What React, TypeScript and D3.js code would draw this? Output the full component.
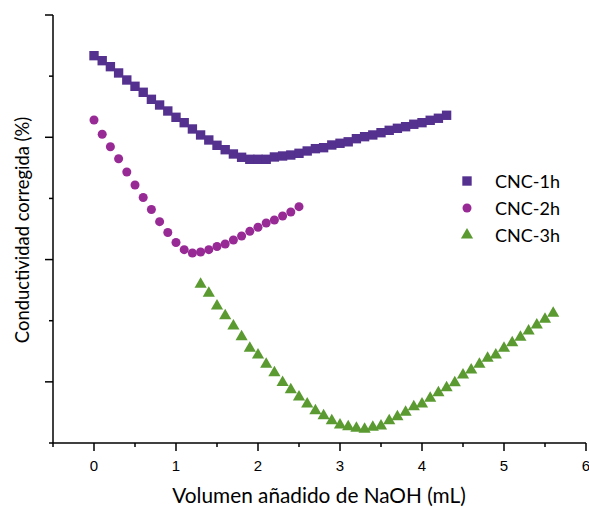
import React from 'react'
import * as d3 from 'd3'

// conductivity readings (arbitrary units, axis is unlabelled), one every 0.1 mL of NaOH
const cnc1Values = [
  6.335, 6.253, 6.155, 6.052, 5.937, 5.834, 5.736, 5.621, 5.528, 5.43,
  5.327, 5.239, 5.136, 5.038, 4.956, 4.869, 4.797, 4.727, 4.673, 4.64,
  4.64, 4.64, 4.678, 4.694, 4.71, 4.738, 4.776, 4.814, 4.83, 4.874,
  4.902, 4.926, 4.977, 5.01, 5.038, 5.075, 5.114, 5.147, 5.173, 5.213,
  5.239, 5.278, 5.311, 5.36,
]
const cnc1Start = 0

const cnc2Values = [
  5.283, 5.049, 4.846, 4.65, 4.432, 4.22, 4.015, 3.819, 3.62, 3.443,
  3.279, 3.162, 3.108, 3.124, 3.162, 3.214, 3.255, 3.32, 3.386, 3.462,
  3.528, 3.598, 3.647, 3.713, 3.778, 3.865,
]
const cnc2Start = 0

const cnc3Values = [
  2.596, 2.448, 2.241, 2.082, 1.914, 1.739, 1.549, 1.439, 1.287, 1.15,
  0.99, 0.872, 0.752, 0.638, 0.528, 0.447, 0.365, 0.294, 0.267, 0.24,
  0.224, 0.257, 0.278, 0.365, 0.43, 0.502, 0.594, 0.638, 0.731, 0.823,
  0.904, 0.986, 1.112, 1.194, 1.287, 1.385, 1.439, 1.549, 1.64, 1.729,
  1.832, 1.93, 2.023, 2.121,
]
const cnc3Start = 1.3
const step = 0.1

const seriesNames = ['CNC-1h', 'CNC-2h', 'CNC-3h']
const xMajorTicks = [0, 1, 2, 3, 4, 5, 6]
const xMinorTicks = [-0.5, 0.5, 1.5, 2.5, 3.5, 4.5, 5.5]
const yMajorTicks = [1, 3, 5, 7]
const yMinorTicks = [0, 2, 4, 6]

const toPoints = (start: number, vals: number[]) =>
  vals.map((v, i) => ({ x: +(start + i * step).toFixed(1), y: v }))

export default function App() {
  const width = 589
  const height = 510
  const left = 53, right = 586, top = 15, bottom = 443

  const x = d3.scaleLinear().domain([-0.5, 6]).range([left, right])
  const y = d3.scaleLinear().domain([0, 7]).range([bottom, top])

  const series = [
    { name: seriesNames[0], color: '#54308f', shape: d3.symbolSquare, size: 88, pts: toPoints(cnc1Start, cnc1Values) },
    { name: seriesNames[1], color: '#982a96', shape: d3.symbolCircle, size: 64, pts: toPoints(cnc2Start, cnc2Values) },
    { name: seriesNames[2], color: '#5a9a30', shape: d3.symbolTriangle, size: 64, pts: toPoints(cnc3Start, cnc3Values) },
  ]

  const sym = (s: any, size: number) => d3.symbol().type(s).size(size)() as string

  const tickFont = '"Liberation Sans", Arial, sans-serif'
  const labelFont = 'Lato, "Open Sans", sans-serif'

  return (
    <svg width={width} height={height} style={{ position: 'absolute', left: 0, top: 0, background: '#fff' }}>
      {/* y axis */}
      <line x1={left} x2={left} y1={top} y2={bottom} stroke="#000" strokeWidth={1.5} />
      {yMajorTicks.map(t => (
        <line key={'ym' + t} x1={left - 8} x2={left} y1={y(t)} y2={y(t)} stroke="#000" strokeWidth={1.5} />
      ))}
      {yMinorTicks.map(t => (
        <line key={'yn' + t} x1={left - 4} x2={left} y1={y(t)} y2={y(t)} stroke="#000" strokeWidth={1.5} />
      ))}
      {/* x axis */}
      <line x1={left} x2={right} y1={bottom} y2={bottom} stroke="#000" strokeWidth={1.5} />
      {xMajorTicks.map(t => (
        <g key={'xm' + t}>
          <line x1={x(t)} x2={x(t)} y1={bottom} y2={bottom + 8} stroke="#000" strokeWidth={1.5} />
          <text x={x(t)} y={bottom + 28} textAnchor="middle" fontFamily={tickFont} fontSize={15} fill="#000">
            {t}
          </text>
        </g>
      ))}
      {xMinorTicks.map(t => (
        <line key={'xn' + t} x1={x(t)} x2={x(t)} y1={bottom} y2={bottom + 4} stroke="#000" strokeWidth={1.5} />
      ))}

      {/* markers */}
      {series.map(s => (
        <g key={s.name} fill={s.color}>
          {s.pts.map((p, i) => (
            <path key={i} d={sym(s.shape, s.size)} transform={`translate(${x(p.x)},${y(p.y)})`} />
          ))}
        </g>
      ))}

      {/* legend */}
      {series.map((s, i) => (
        <g key={'lg' + s.name} transform={`translate(467,${181 + i * 27})`}>
          <path d={sym(s.shape, s.size)} fill={s.color} />
          <text x={28} y={6.5} fontFamily={labelFont} fontSize={18} fill="#000">{s.name}</text>
        </g>
      ))}

      {/* axis titles */}
      <text x={319} y={503} textAnchor="middle" fontFamily={labelFont} fontSize={20.8} fill="#000">
        Volumen añadido de NaOH (mL)
      </text>
      <text transform="translate(29,230) rotate(-90)" textAnchor="middle" fontFamily={labelFont} fontSize={18.4} fill="#000">
        Conductividad corregida (%)
      </text>
    </svg>
  )
}
